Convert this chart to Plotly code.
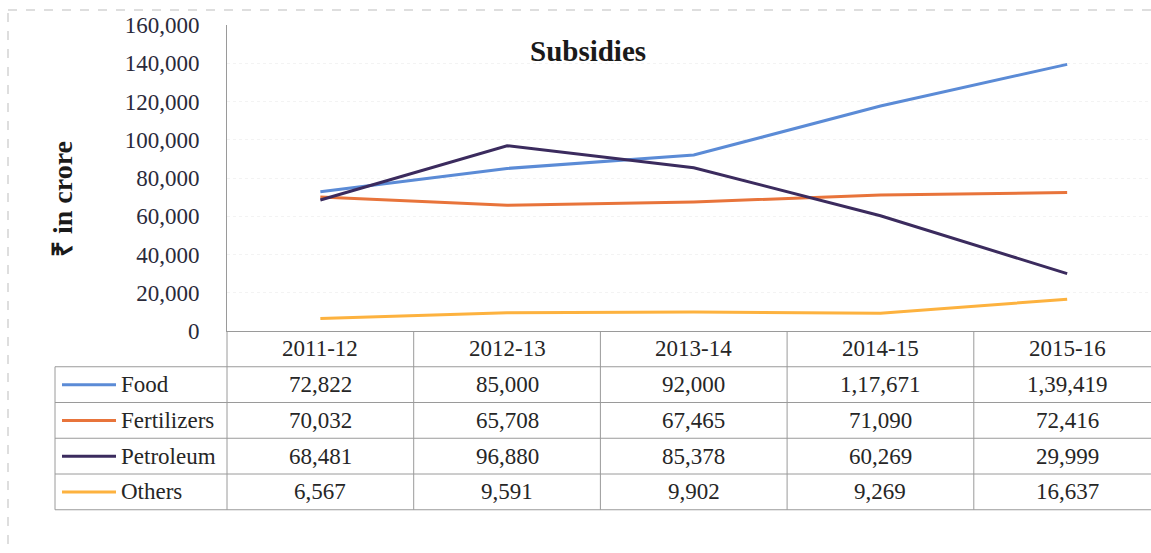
import plotly.graph_objects as go

# ---------------- data ----------------
years = ["2011-12", "2012-13", "2013-14", "2014-15", "2015-16"]
food = [72822, 85000, 92000, 117671, 139419]
fertilizers = [70032, 65708, 67465, 71090, 72416]
petroleum = [68481, 96880, 85378, 60269, 29999]
others = [6567, 9591, 9902, 9269, 16637]
series_names = ["Food", "Fertilizers", "Petroleum", "Others"]
y_ticks = [0, 20000, 40000, 60000, 80000, 100000, 120000, 140000, 160000]
title_text = "Subsidies"
y_title = "₹ in crore"

# ---------------- style / layout ----------------
W, H = 1151, 553
colors = ["#5B8BD6", "#E8743B", "#3B2B5E", "#FDB23F"]
FONT = "Liberation Serif, Times New Roman, serif"
TXT = "#262626"
GRID = "#9a9a9a"
FS = 23

ax_left, ax_top, ax_bottom = 227, 25, 331
col_w = 186.7
row_h = 35.75
tbl_left = 55


def px(x):
    return x / W


def py(y):
    return 1 - y / H


def indian_fmt(n):
    s = str(int(n))
    if len(s) <= 3:
        return s
    last3 = s[-3:]
    rest = s[:-3]
    groups = []
    while len(rest) > 2:
        groups.insert(0, rest[-2:])
        rest = rest[:-2]
    if rest:
        groups.insert(0, rest)
    return ",".join(groups) + "," + last3


all_series = [food, fertilizers, petroleum, others]

fig = go.Figure()
x_idx = list(range(len(years)))
for name, vals, c in zip(series_names, all_series, colors):
    fig.add_trace(go.Scatter(x=x_idx, y=vals, mode="lines", name=name,
                             line=dict(color=c, width=3), showlegend=False))

x_end = -0.5 + (W - ax_left) / col_w

fig.update_layout(
    width=W, height=H, autosize=False,
    margin=dict(l=0, r=0, t=0, b=0, pad=0, autoexpand=False),
    paper_bgcolor="white", plot_bgcolor="white",
    font=dict(family=FONT, size=FS, color=TXT),
    xaxis=dict(domain=[px(ax_left), 1], range=[-0.5, x_end], automargin=False,
               showticklabels=False, showgrid=False, zeroline=False,
               showline=True, linecolor=GRID, linewidth=1, ticks=""),
    yaxis=dict(domain=[py(ax_bottom), py(ax_top)], range=[0, 160000],
               automargin=False,
               tickvals=y_ticks,
               ticktext=[f"{v:,}" for v in y_ticks],
               tickfont=dict(family=FONT, size=FS, color="#2a2a3a"),
               ticklabelstandoff=22,
               showgrid=True, gridcolor="#f3f3f3", griddash="dot",
               zeroline=False, showline=True, linecolor=GRID, linewidth=1,
               ticks=""),
)

shapes = []
ann = []

# outer dashed frame
shapes.append(dict(type="rect", xref="paper", yref="paper",
                   x0=px(8), x1=px(1165), y0=py(10), y1=py(560),
                   line=dict(color="#bdbdbd", width=1, dash="dash")))

# title
ann.append(dict(text=f"<b>{title_text}</b>", xref="paper", yref="paper",
                x=px(588), y=py(51), showarrow=False,
                font=dict(family=FONT, size=29, color="#1a1a1a"),
                xanchor="center", yanchor="middle"))
# y title
ann.append(dict(text=f"<b>{y_title}</b>", xref="paper", yref="paper",
                x=px(62), y=py(199), showarrow=False, textangle=-90,
                font=dict(family=FONT, size=28, color="#1a1a1a"),
                xanchor="center", yanchor="middle"))

# ---- table ----
hdr_bottom = ax_bottom + row_h
rows_y = [hdr_bottom + i * row_h for i in range(len(series_names) + 1)]
tbl_bottom = rows_y[-1]
right_edge = ax_left + col_w * len(years)

# horizontal lines
for yy in rows_y:
    shapes.append(dict(type="line", xref="paper", yref="paper",
                       x0=px(tbl_left), x1=px(right_edge + 5), y0=py(yy), y1=py(yy),
                       line=dict(color=GRID, width=1)))
# vertical lines
shapes.append(dict(type="line", xref="paper", yref="paper",
                   x0=px(tbl_left), x1=px(tbl_left), y0=py(hdr_bottom), y1=py(tbl_bottom),
                   line=dict(color=GRID, width=1)))
for i in range(len(years) + 1):
    xx = ax_left + i * col_w
    shapes.append(dict(type="line", xref="paper", yref="paper",
                       x0=px(xx), x1=px(xx), y0=py(ax_bottom), y1=py(tbl_bottom),
                       line=dict(color=GRID, width=1)))

# header
for i, yr in enumerate(years):
    ann.append(dict(text=yr, xref="x", yref="paper", x=i,
                    y=py(ax_bottom + row_h / 2), showarrow=False,
                    xanchor="center", yanchor="middle",
                    font=dict(family=FONT, size=FS, color=TXT)))

# rows
for r, (name, vals, c) in enumerate(zip(series_names, all_series, colors)):
    yc = hdr_bottom + r * row_h + row_h / 2
    shapes.append(dict(type="line", xref="paper", yref="paper",
                       x0=px(62), x1=px(116), y0=py(yc), y1=py(yc),
                       line=dict(color=c, width=3)))
    ann.append(dict(text=name, xref="paper", yref="paper", x=px(119), y=py(yc),
                    showarrow=False, xanchor="left", yanchor="middle",
                    font=dict(family=FONT, size=FS, color=TXT)))
    for i, v in enumerate(vals):
        ann.append(dict(text=indian_fmt(v), xref="x", yref="paper", x=i, y=py(yc),
                        showarrow=False, xanchor="center", yanchor="middle",
                        font=dict(family=FONT, size=FS, color=TXT)))

fig.update_layout(shapes=shapes, annotations=ann)
fig.write_html("out.html",
               config={"displayModeBar": False},
               post_script="document.body.style.margin='0';"
                           "document.body.style.overflow='hidden';")
